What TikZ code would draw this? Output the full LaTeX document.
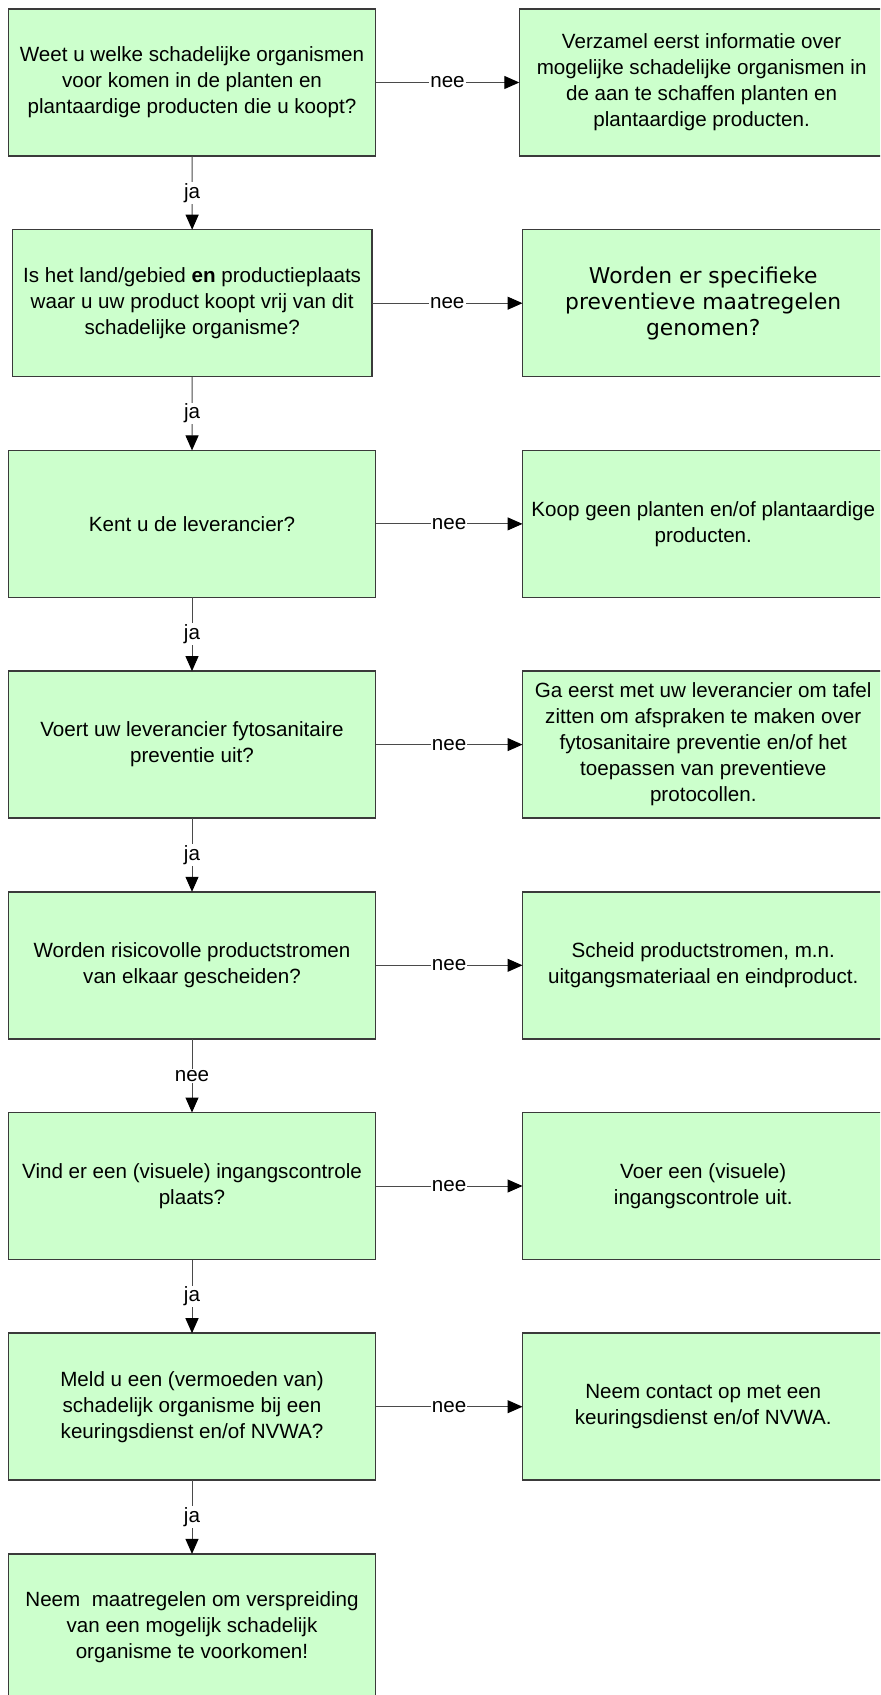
\documentclass[tikz,border=0pt]{standalone}
\usepackage{fontspec}
\setmainfont{Liberation Sans}
\newfontfamily\verdanafont{DejaVu Sans}
\usepackage{xcolor}
\usepackage{tikz}
\usetikzlibrary{arrows.meta}

\definecolor{boxgroen}{HTML}{CCFFCC}
\definecolor{rand}{HTML}{3A3A3A}
\definecolor{lijn}{HTML}{4A4A4A}

\begin{document}
\begin{tikzpicture}[x=0.5pt,y=-0.5pt,
		vraag/.style={draw=rand, line width=0.75pt, fill=boxgroen, minimum width=183.7pt, minimum height=73.5pt,
			inner sep=0pt, outer sep=0pt, align=center, font=\fontsize{10.3}{13}\selectfont},
		actie/.style={vraag, minimum width=180.75pt},
		lbl/.style={fill=white, inner sep=0.6pt, font=\fontsize{10.3}{13}\selectfont},
		pijl/.style={draw=lijn, line width=0.5pt, -{Triangle[length=7.5pt,width=6.5pt,color=black]}}]
		\useasboundingbox (0,0) rectangle (880,1695);
		\fill[white] (0,0) rectangle (880,1695);
		\clip (0,0) rectangle (880,1695);
		
		\node[vraag] (v1) at (192,82.5) {Weet u welke schadelijke organismen\\voor komen in de planten en\\plantaardige producten die u koopt?};
		\node[actie, minimum width=182.35pt] (a1) at (701.65,82.5) {Verzamel eerst informatie over\\mogelijke schadelijke organismen in\\de aan te schaffen planten en\\plantaardige producten.};
		
		\node[vraag, minimum width=179.85pt] (v2) at (192.15,303.2) {Is het land/gebied \textbf{en} productieplaats\\waar u uw product koopt vrij van dit\\schadelijke organisme?};
		\node[actie, font=\verdanafont\fontsize{10.9}{13}\selectfont] (a2) at (703.25,303.2) {Worden er specifieke\\preventieve maatregelen\\genomen?};
		
		\node[vraag] (v3) at (192,523.9) {Kent u de leverancier?};
		\node[actie] (a3) at (703.25,523.9) {Koop geen planten en/of plantaardige\\producten.};
		
		\node[vraag] (v4) at (192,744.6) {Voert uw leverancier fytosanitaire\\preventie uit?};
		\node[actie] (a4) at (703.25,744.6) {Ga eerst met uw leverancier om tafel\\zitten om afspraken te maken over\\fytosanitaire preventie en/of het\\toepassen van preventieve\\protocollen.};
		
		\node[vraag] (v5) at (192,965.3) {Worden risicovolle productstromen\\van elkaar gescheiden?};
		\node[actie] (a5) at (703.25,965.3) {Scheid productstromen, m.n.\\uitgangsmateriaal en eindproduct.};
		
		\node[vraag] (v6) at (192,1186) {Vind er een (visuele) ingangscontrole\\plaats?};
		\node[actie] (a6) at (703.25,1186) {Voer een (visuele)\\ingangscontrole uit.};
		
		\node[vraag] (v7) at (192,1406.7) {Meld u een (vermoeden van)\\schadelijk organisme bij een\\keuringsdienst en/of NVWA?};
		\node[actie] (a7) at (703.25,1406.7) {Neem contact op met een\\keuringsdienst en/of NVWA.};
		
		\node[vraag] (v8) at (192,1627.4) {Neem\ \ maatregelen om verspreiding\\van een mogelijk schadelijk\\organisme te voorkomen!};
		
		\draw[pijl] (v1.east) -- node[lbl] {nee} (a1.west);
		\draw[pijl] (v2.east) -- node[lbl] {nee} (a2.west);
		\draw[pijl] (v3.east) -- node[lbl] {nee} (a3.west);
		\draw[pijl] (v4.east) -- node[lbl] {nee} (a4.west);
		\draw[pijl] (v5.east) -- node[lbl] {nee} (a5.west);
		\draw[pijl] (v6.east) -- node[lbl] {nee} (a6.west);
		\draw[pijl] (v7.east) -- node[lbl] {nee} (a7.west);
		
		\draw[pijl] (v1.south) -- node[lbl] {ja} (v2.north);
		\draw[pijl] (v2.south) -- node[lbl] {ja} (v3.north);
		\draw[pijl] (v3.south) -- node[lbl] {ja} (v4.north);
		\draw[pijl] (v4.south) -- node[lbl] {ja} (v5.north);
		\draw[pijl] (v5.south) -- node[lbl] {nee} (v6.north);
		\draw[pijl] (v6.south) -- node[lbl] {ja} (v7.north);
		\draw[pijl] (v7.south) -- node[lbl] {ja} (v8.north);
	\end{tikzpicture}
\end{document}
